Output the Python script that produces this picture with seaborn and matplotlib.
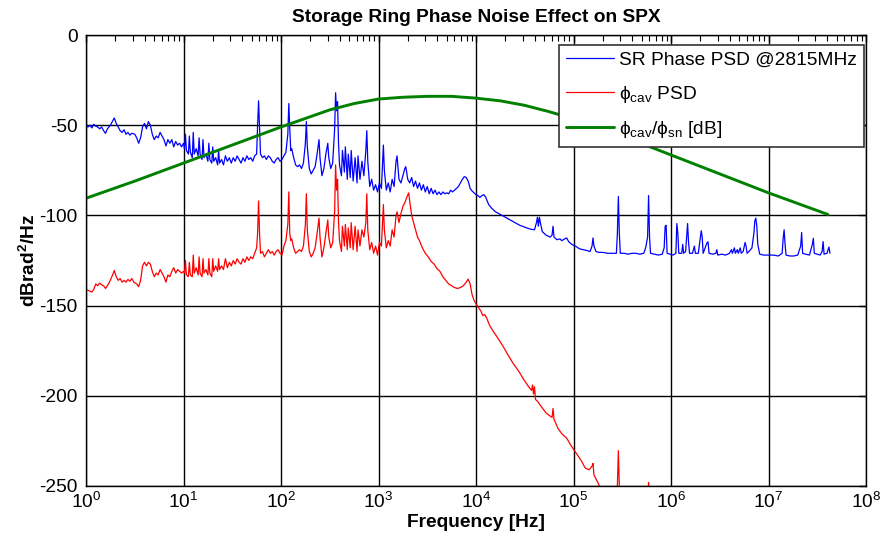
import numpy as np
import pandas as pd
import matplotlib
matplotlib.use("Agg")
import matplotlib.pyplot as plt
import seaborn as sns
from matplotlib.ticker import LogLocator, NullFormatter, FixedLocator

# ---- data: (log10 frequency, dB) ----
sr_psd = [
    (0.00, -50.5), (0.02, -51), (0.04, -50), (0.06, -51.5), (0.08, -49.5), (0.10, -50.5),
    (0.12, -51), (0.14, -52), (0.16, -51), (0.18, -53), (0.20, -54.5), (0.22, -52),
    (0.25, -50), (0.28, -47), (0.29, -46), (0.31, -49), (0.33, -51), (0.35, -53),
    (0.37, -54), (0.39, -52.5), (0.41, -55), (0.43, -54), (0.45, -55.5), (0.47, -54.5),
    (0.50, -55), (0.52, -57), (0.54, -60), (0.56, -57), (0.58, -51), (0.60, -49),
    (0.62, -52), (0.64, -48), (0.66, -50), (0.68, -55), (0.70, -58), (0.72, -56),
    (0.74, -57), (0.76, -54), (0.78, -56), (0.80, -58), (0.82, -61.5), (0.84, -58),
    (0.86, -60), (0.88, -58), (0.90, -62), (0.92, -59), (0.94, -61), (0.96, -60),
    (0.98, -62), (1.00, -60),
    (1.01, -63), (1.02, -55), (1.03, -64), (1.05, -66), (1.06, -56), (1.07, -65),
    (1.09, -68), (1.10, -54), (1.11, -66), (1.13, -63), (1.15, -67), (1.16, -57),
    (1.17, -66), (1.19, -69), (1.20, -58), (1.21, -68), (1.23, -66), (1.25, -70),
    (1.26, -60), (1.27, -69), (1.29, -71), (1.30, -62), (1.31, -70), (1.33, -68),
    (1.35, -72), (1.36, -64), (1.37, -71), (1.39, -69), (1.41, -72), (1.43, -67),
    (1.45, -70), (1.47, -68), (1.49, -71), (1.51, -68), (1.53, -70), (1.55, -67),
    (1.57, -69), (1.59, -71), (1.61, -68), (1.63, -70), (1.65, -67), (1.67, -69),
    (1.69, -68), (1.71, -70), (1.73, -67), (1.75, -66), (1.76, -50), (1.77, -36.5),
    (1.78, -52), (1.79, -66), (1.81, -68), (1.83, -67), (1.85, -69), (1.87, -67),
    (1.89, -68), (1.91, -70), (1.93, -71), (1.95, -69), (1.97, -68), (1.99, -70),
    (2.01, -69), (2.03, -67), (2.05, -65), (2.07, -55), (2.08, -38), (2.09, -52),
    (2.10, -64), (2.11, -63), (2.13, -68), (2.15, -72), (2.17, -73), (2.19, -72),
    (2.21, -74), (2.23, -71), (2.25, -60), (2.26, -48), (2.27, -62), (2.29, -74),
    (2.31, -77), (2.33, -75), (2.35, -73), (2.37, -66), (2.39, -58), (2.40, -68),
    (2.42, -78), (2.44, -74), (2.46, -66), (2.48, -60), (2.49, -68), (2.51, -74),
    (2.53, -71), (2.55, -52), (2.56, -32), (2.57, -42), (2.58, -37), (2.59, -60),
    (2.60, -72), (2.62, -78), (2.63, -64), (2.65, -76), (2.66, -62), (2.68, -80),
    (2.69, -66), (2.71, -79), (2.72, -64), (2.74, -81), (2.76, -68), (2.78, -82),
    (2.79, -67), (2.81, -80), (2.83, -70), (2.85, -78), (2.87, -64), (2.88, -53),
    (2.89, -70), (2.91, -84), (2.93, -80), (2.95, -86), (2.97, -83), (2.99, -87),
    (3.01, -82), (3.03, -85), (3.05, -61), (3.06, -75), (3.08, -86), (3.10, -82),
    (3.12, -87), (3.14, -80), (3.16, -84), (3.18, -70), (3.19, -67), (3.21, -80),
    (3.23, -82), (3.25, -78), (3.27, -74), (3.28, -73), (3.30, -80), (3.32, -82),
    (3.34, -79), (3.36, -84), (3.38, -81), (3.40, -85), (3.42, -82), (3.44, -86),
    (3.46, -83), (3.48, -87), (3.50, -84), (3.52, -88), (3.54, -85), (3.56, -88),
    (3.58, -86), (3.60, -88.5), (3.62, -87), (3.64, -88.5), (3.66, -87), (3.68, -88),
    (3.70, -87.5), (3.72, -88), (3.74, -86), (3.76, -87), (3.78, -86), (3.80, -85),
    (3.82, -84), (3.84, -82), (3.86, -80), (3.88, -78.5), (3.90, -79), (3.92, -81),
    (3.94, -85), (3.96, -86.5), (3.98, -87.5), (4.00, -88.5), (4.02, -89), (4.04, -90),
    (4.06, -89), (4.08, -88.5), (4.10, -90), (4.13, -94), (4.16, -96), (4.20, -98),
    (4.25, -99.5), (4.30, -101), (4.35, -102.5), (4.40, -104), (4.45, -105.5),
    (4.50, -106.5), (4.55, -107.5), (4.60, -108), (4.62, -104), (4.63, -101),
    (4.64, -106), (4.65, -101), (4.66, -104), (4.68, -109), (4.72, -111), (4.76, -112),
    (4.78, -111), (4.79, -106), (4.80, -112), (4.83, -113.5), (4.86, -113), (4.88, -114),
    (4.91, -113), (4.93, -112.5), (4.95, -114.5), (4.98, -116), (5.02, -117),
    (5.06, -118.5), (5.10, -119), (5.14, -119.5), (5.17, -120), (5.19, -117),
    (5.20, -112.5), (5.21, -117), (5.23, -120), (5.26, -120.5), (5.30, -120.5),
    (5.35, -121), (5.40, -121), (5.44, -121), (5.45, -110), (5.46, -89.5), (5.47, -110),
    (5.48, -121), (5.52, -121), (5.56, -121.5), (5.60, -121), (5.64, -121),
    (5.68, -121.5), (5.72, -121), (5.74, -118), (5.76, -112), (5.77, -89), (5.78, -112),
    (5.79, -121), (5.83, -121.5), (5.87, -122), (5.91, -121.5), (5.93, -118),
    (5.94, -106), (5.95, -105.5), (5.96, -121), (5.99, -121.5), (6.02, -122),
    (6.05, -121), (6.06, -104.5), (6.07, -110), (6.08, -121), (6.11, -121),
    (6.12, -116), (6.13, -121), (6.15, -120), (6.17, -104.5), (6.18, -115),
    (6.19, -121), (6.22, -121), (6.24, -117), (6.25, -121), (6.28, -121),
    (6.31, -108.5), (6.32, -112), (6.33, -121), (6.37, -115), (6.38, -114.7),
    (6.39, -121), (6.43, -121.5), (6.46, -121), (6.47, -119), (6.48, -122),
    (6.52, -121.5), (6.56, -122), (6.60, -121), (6.62, -119), (6.63, -121),
    (6.65, -118), (6.66, -121), (6.68, -119), (6.69, -121), (6.71, -118), (6.72, -121),
    (6.74, -120), (6.76, -115), (6.77, -117), (6.78, -121), (6.80, -120), (6.83, -118),
    (6.85, -110), (6.86, -103), (6.87, -101.5), (6.88, -106), (6.89, -116),
    (6.91, -121.5), (6.95, -122), (7.00, -122), (7.05, -122), (7.10, -122.5),
    (7.14, -121), (7.15, -113), (7.16, -108), (7.17, -116), (7.18, -122),
    (7.22, -122.5), (7.26, -122.5), (7.30, -122), (7.33, -117), (7.34, -109.5),
    (7.35, -121), (7.38, -121.5), (7.42, -122), (7.45, -116), (7.46, -112.7),
    (7.47, -121), (7.50, -121.5), (7.53, -122), (7.55, -120), (7.56, -114.5),
    (7.57, -121.5), (7.60, -121), (7.62, -117.5), (7.63, -121),
]

cav_psd = [
    (0.00, -141), (0.02, -141.5), (0.04, -142), (0.06, -142.5), (0.08, -141),
    (0.10, -138), (0.12, -139), (0.14, -137.5), (0.16, -138.5), (0.18, -139),
    (0.20, -140.5), (0.22, -139), (0.25, -136), (0.28, -132), (0.29, -130.5),
    (0.31, -134), (0.33, -136), (0.35, -135), (0.37, -137), (0.39, -136), (0.41, -137),
    (0.43, -135.5), (0.45, -136.5), (0.47, -135), (0.49, -137), (0.52, -138),
    (0.54, -139.5), (0.56, -136), (0.58, -128), (0.60, -126), (0.62, -128),
    (0.64, -126), (0.66, -127), (0.68, -131), (0.70, -134), (0.72, -132), (0.74, -133),
    (0.76, -130), (0.78, -132), (0.80, -134), (0.82, -137), (0.84, -133), (0.86, -134),
    (0.88, -131), (0.90, -129), (0.92, -132), (0.94, -130), (0.96, -131), (0.98, -132),
    (1.00, -131),
    (1.01, -132), (1.02, -125), (1.03, -133), (1.05, -134), (1.06, -126), (1.07, -133),
    (1.09, -134), (1.10, -122), (1.11, -132), (1.13, -129), (1.15, -133), (1.16, -123),
    (1.17, -132), (1.19, -134), (1.20, -124), (1.21, -132), (1.23, -130), (1.25, -133),
    (1.26, -124), (1.27, -132), (1.29, -134), (1.30, -124), (1.31, -131), (1.33, -128),
    (1.35, -131), (1.36, -124), (1.37, -130), (1.39, -128), (1.41, -130), (1.43, -124),
    (1.45, -129), (1.47, -126), (1.49, -128), (1.51, -125), (1.53, -127), (1.55, -124),
    (1.57, -126), (1.59, -127), (1.61, -124), (1.63, -126), (1.65, -123), (1.67, -125),
    (1.69, -123), (1.71, -124), (1.73, -121), (1.75, -118), (1.76, -110), (1.77, -92),
    (1.78, -110), (1.79, -121), (1.81, -120), (1.83, -123), (1.85, -121), (1.87, -119),
    (1.89, -121), (1.91, -120), (1.93, -122), (1.95, -120), (1.97, -119), (1.99, -121),
    (2.01, -122), (2.03, -117), (2.05, -114), (2.07, -105), (2.08, -87), (2.09, -110),
    (2.10, -114), (2.11, -113), (2.13, -118), (2.15, -121), (2.17, -120), (2.19, -119),
    (2.21, -120), (2.23, -117), (2.25, -105), (2.26, -88), (2.27, -108), (2.29, -120),
    (2.31, -123), (2.33, -121), (2.35, -118), (2.37, -110), (2.39, -101.5), (2.40, -112),
    (2.42, -123), (2.44, -118), (2.46, -110), (2.48, -102.5), (2.49, -112), (2.51, -118),
    (2.53, -115), (2.55, -98), (2.56, -72), (2.57, -86), (2.58, -80), (2.59, -104),
    (2.60, -114), (2.62, -120), (2.63, -106), (2.65, -117), (2.66, -105), (2.68, -119),
    (2.69, -107), (2.71, -118), (2.72, -104), (2.74, -119), (2.76, -106), (2.78, -120),
    (2.79, -108), (2.81, -117), (2.83, -108), (2.85, -112), (2.87, -104), (2.88, -88),
    (2.89, -108), (2.91, -119), (2.93, -115), (2.95, -121), (2.97, -117), (2.99, -122),
    (3.01, -115), (3.03, -117), (3.05, -94), (3.06, -108), (3.08, -118), (3.10, -114),
    (3.12, -117), (3.14, -108), (3.16, -112), (3.18, -100), (3.19, -98), (3.21, -104),
    (3.23, -99), (3.25, -95), (3.27, -93), (3.29, -90), (3.31, -87.5), (3.32, -92),
    (3.34, -100), (3.36, -104), (3.38, -108), (3.40, -112), (3.42, -114), (3.45, -118),
    (3.48, -121), (3.51, -123), (3.54, -125.5), (3.57, -127), (3.60, -129.5),
    (3.63, -131), (3.66, -134), (3.69, -136), (3.72, -138), (3.75, -139), (3.78, -140),
    (3.81, -140.5), (3.84, -140), (3.87, -139), (3.90, -137), (3.92, -135.3),
    (3.94, -138), (3.96, -144), (3.98, -147), (4.00, -149), (4.02, -150.6),
    (4.05, -153), (4.07, -155.5), (4.09, -155), (4.11, -157), (4.14, -161),
    (4.18, -164.5), (4.23, -168.5), (4.28, -172.8), (4.33, -177.5), (4.38, -182),
    (4.44, -186.5), (4.49, -191), (4.54, -195), (4.57, -197), (4.58, -194),
    (4.59, -199), (4.60, -195), (4.61, -202), (4.63, -203), (4.67, -206),
    (4.72, -209.6), (4.78, -212), (4.79, -207), (4.80, -213), (4.84, -218),
    (4.88, -221), (4.93, -223.5), (4.98, -228), (5.03, -232), (5.08, -236),
    (5.12, -240), (5.16, -241), (5.19, -239), (5.20, -237.5), (5.21, -244),
    (5.24, -247), (5.27, -250.5), (5.32, -255), (5.40, -262), (5.44, -265),
    (5.45, -250), (5.46, -230.4), (5.47, -250), (5.48, -267), (5.60, -272),
    (5.76, -260), (5.77, -248), (5.78, -262), (5.90, -285),
]

cav_over_sn = [
    (0.00, -90.5), (0.50, -81), (1.00, -71), (1.50, -61), (2.00, -51), (2.50, -41.5),
    (2.75, -38), (3.00, -35.5), (3.25, -34.5), (3.50, -34), (3.75, -34), (4.00, -35),
    (4.25, -36.5), (4.50, -39), (4.75, -42.5), (5.00, -46.5), (5.50, -56), (6.00, -66.5),
    (6.50, -77), (7.00, -87.5), (7.61, -99.5),
]

labels = ["SR Phase PSD @2815MHz",
          "ϕ$_{\\mathregular{cav}}$ PSD",
          "ϕ$_{\\mathregular{cav}}$/ϕ$_{\\mathregular{sn}}$ [dB]"]
colors = ["#0000ff", "#ff0000", "#008000"]
widths = [0.9, 0.9, 2.1]

def to_frame(pairs):
    lf, db = zip(*pairs)
    return pd.DataFrame({"freq": np.power(10.0, np.array(lf)), "db": np.array(db)})

sns.set_style("white")
plt.rcParams["font.family"] = ["Liberation Sans", "DejaVu Sans"]
plt.rcParams["mathtext.default"] = "regular"
plt.rcParams["axes.unicode_minus"] = False
plt.rcParams["text.color"] = "black"
plt.rcParams["axes.labelcolor"] = "black"
FS = 13.8

fig = plt.figure(figsize=(8.85, 5.45), dpi=100)
ax = fig.add_axes([86 / 885, 59 / 545, 780 / 885, 451 / 545])

for pairs, lab, col, lw in zip([sr_psd, cav_psd, cav_over_sn], labels, colors, widths):
    sns.lineplot(data=to_frame(pairs), x="freq", y="db", ax=ax, color=col, lw=lw,
                 label=lab, estimator=None, sort=False)

ax.set_xscale("log")
ax.set_xlim(1, 1e8)
ax.set_ylim(-250, 0)
ax.xaxis.set_major_locator(FixedLocator([10.0 ** k for k in range(9)]))
ax.xaxis.set_minor_locator(LogLocator(base=10, subs=np.arange(2, 10), numticks=100))
ax.xaxis.set_minor_formatter(NullFormatter())
ax.set_yticks([0, -50, -100, -150, -200, -250])
ax.grid(True, which="major", color="black", lw=1.0)
ax.tick_params(which="both", direction="in", top=True, right=True, labelsize=FS,
               colors="black", labelcolor="black")
ax.tick_params(which="major", length=5, width=1)
ax.tick_params(which="minor", length=4, width=0.8)
ax.tick_params(axis="y", pad=6)
ax.tick_params(axis="x", pad=4)
for s in ax.spines.values():
    s.set_color("black")
    s.set_linewidth(1.0)

ax.set_title("Storage Ring Phase Noise Effect on SPX", fontsize=FS, fontweight="bold",
             pad=9, color="black")
ax.set_xlabel("Frequency [Hz]", fontsize=FS, fontweight="bold", labelpad=2, color="black")
ax.set_ylabel("dBrad$^{2}$/Hz", fontsize=FS, fontweight="bold", labelpad=0, color="black")

leg = ax.legend(loc="upper right", bbox_to_anchor=((864 - 86) / 780, (486 - 45) / 451),
                borderaxespad=0, fontsize=FS, frameon=True, fancybox=False, framealpha=1,
                edgecolor="#333333", handlelength=2.5, handletextpad=0.3, labelspacing=0.75,
                borderpad=0.35)
leg.get_frame().set_linewidth(1.2)

fig.savefig("out.png", dpi=100, facecolor="white")
